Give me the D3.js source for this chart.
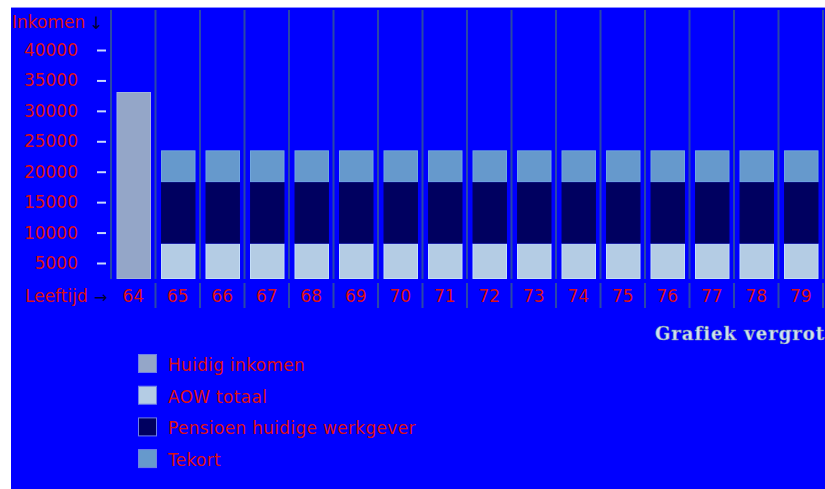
<!DOCTYPE html>
<html>
<head>
<meta charset="utf-8">
<script src="https://cdn.jsdelivr.net/npm/d3@7"></script>
<style>
  body { margin: 0; background: #fff; }
  text { font-family: "DejaVu Sans", sans-serif; }
</style>
</head>
<body>
<div id="canvas"></div>
<script>
// ages on the x axis
const ages = [64, 65, 66, 67, 68, 69, 70, 71, 72, 73, 74, 75, 76, 77, 78, 79];
// income now (only at 64)
const huidigInkomen = [33000, 0, 0, 0, 0, 0, 0, 0, 0, 0, 0, 0, 0, 0, 0, 0];
const aowTotaal = [0, 6250, 6250, 6250, 6250, 6250, 6250, 6250, 6250, 6250, 6250, 6250, 6250, 6250, 6250, 6250];
const pensioen = [0, 10850, 10850, 10850, 10850, 10850, 10850, 10850, 10850, 10850, 10850, 10850, 10850, 10850, 10850, 10850];
const tekort = [0, 5600, 5600, 5600, 5600, 5600, 5600, 5600, 5600, 5600, 5600, 5600, 5600, 5600, 5600, 5600];
const tickLabels = ["40000", "35000", "30000", "25000", "20000", "15000", "10000", "5000"];
const seriesNames = ["Huidig inkomen", "AOW totaal", "Pensioen huidige werkgever", "Tekort"];
const seriesColors = ["#94a6c8", "#b4cce4", "#000060", "#6699cc"];

const width = 825;
const height = 489;
const red = "#dd1111";
const sepColor = "#2a48a8";

const svg = d3.select("#canvas").append("svg")
  .attr("width", width)
  .attr("height", height);

// blue panel
svg.append("rect").attr("x", 11).attr("y", 7).attr("width", width - 11).attr("height", height - 7)
  .attr("fill", "#0000ff");
svg.append("line").attr("x1", 11).attr("x2", width).attr("y1", 7.5).attr("y2", 7.5)
  .attr("stroke", "#8c8cff");

const x = d3.scaleBand().domain(ages).range([111, 823]).padding(0);
const y = d3.scaleLinear().domain([0, 40000]).range([279, 279 - 40000 * 187 / 33000]);
// tick labels sit in evenly spaced rows
const yTicks = d3.scalePoint().domain(tickLabels).range([50, 263]);

// column separators
const cols = ages.map((d) => x(d)).concat([x(ages[ages.length - 1]) + x.bandwidth()]);
svg.selectAll(".sep").data(cols).enter().append("rect")
  .attr("class", "sep")
  .attr("x", (d) => d - 1)
  .attr("y", 10)
  .attr("width", 2)
  .attr("height", 269)
  .attr("fill", sepColor);
svg.selectAll(".sep2").data(cols.slice(1)).enter().append("rect")
  .attr("class", "sep2")
  .attr("x", (d) => d - 1)
  .attr("y", 283)
  .attr("width", 2)
  .attr("height", 25)
  .attr("fill", sepColor);

// stacked data
const rows = ages.map((a, i) => ({
  age: a,
  huidig: huidigInkomen[i],
  aow: aowTotaal[i],
  pensioen: pensioen[i],
  tekort: tekort[i],
}));
const keys = ["huidig", "aow", "pensioen", "tekort"];
const stack = d3.stack().keys(keys)(rows);

const g = svg.append("g");
g.selectAll("g.layer").data(stack).enter().append("g")
  .attr("class", "layer")
  .attr("fill", (d, i) => seriesColors[i])
  .attr("stroke", (d, i) => d3.color(seriesColors[i]).brighter(0.25))
  .selectAll("rect")
  .data((d) => d.filter((p) => p[1] - p[0] > 0))
  .enter().append("rect")
  .attr("x", (d) => x(d.data.age) + 6)
  .attr("y", (d) => y(d[1]) + 0.5)
  .attr("width", 33.5)
  .attr("height", (d) => y(d[0]) - y(d[1]) - 1);

// y axis
const yAxis = svg.append("g")
  .attr("transform", "translate(106,0)")
  .call(d3.axisLeft(yTicks).tickSize(9).tickPadding(19));
yAxis.select(".domain").remove();
yAxis.selectAll(".tick line").attr("stroke", "#c8d8ff").attr("stroke-width", 2);
yAxis.selectAll(".tick text")
  .attr("fill", red)
  .style("font-family", "DejaVu Sans")
  .style("font-size", "17px");

svg.append("text").attr("x", 12).attr("y", 22).attr("dy", "0.35em")
  .attr("fill", red).style("font-size", "17px").text("Inkomen");
svg.append("text").attr("x", 89).attr("y", 23).attr("dy", "0.35em")
  .attr("fill", "#000033").style("font-size", "17px").text("↓");

// x labels
svg.append("text").attr("x", 25).attr("y", 296).attr("dy", "0.35em")
  .attr("fill", red).style("font-size", "17px").text("Leeftijd");
svg.append("text").attr("x", 94).attr("y", 297).attr("dy", "0.35em")
  .attr("fill", "#000033").style("font-size", "16px").text("→");
svg.selectAll(".age").data(ages).enter().append("text")
  .attr("class", "age")
  .attr("x", (d) => x(d) + x.bandwidth() / 2)
  .attr("y", 296)
  .attr("dy", "0.35em")
  .attr("text-anchor", "middle")
  .attr("fill", red)
  .style("font-size", "17px")
  .text((d) => d);

svg.append("text").attr("x", 655).attr("y", 334).attr("dy", "0.35em")
  .attr("fill", "#d0e0f4").attr("stroke", "#7088a8").attr("stroke-width", 0.5)
  .style("font-family", "DejaVu Serif").style("font-weight", "bold")
  .style("font-size", "18px").style("letter-spacing", "1px")
  .text("Grafiek vergroten");

// legend
const legend = svg.selectAll(".legend").data(seriesNames).enter().append("g")
  .attr("class", "legend")
  .attr("transform", (d, i) => `translate(138,${354 + i * 31.7})`);
legend.append("rect")
  .attr("x", 0.5).attr("y", 0.5).attr("width", 18).attr("height", 18)
  .attr("fill", (d, i) => seriesColors[i])
  .attr("stroke", "#6f7fe8");
legend.append("text")
  .attr("x", 30).attr("y", 11).attr("dy", "0.35em")
  .attr("fill", red).style("font-size", "17px").style("letter-spacing", "0.3px")
  .text((d) => d);
</script>
</body>
</html>
